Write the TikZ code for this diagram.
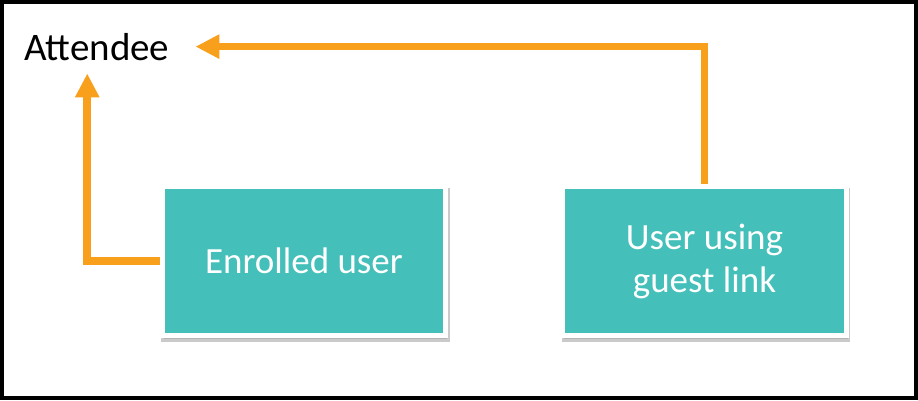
\documentclass[tikz,border=0pt]{standalone}
\usepackage{fontspec}
\setmainfont{Carlito}
\usetikzlibrary{positioning, arrows.meta, shadows, backgrounds}
\definecolor{boxteal}{RGB}{68,191,186}
\definecolor{flowor}{RGB}{248,160,28}

\begin{document}
\begin{tikzpicture}[
    x=1pt, y=1pt,
    role/.style={draw=white, line width=5pt, fill=boxteal, text=white,
        minimum width=283.5pt, minimum height=148.5pt, align=center,
        font=\fontsize{37}{43}\selectfont,
        drop shadow={shadow xshift=1.5pt, shadow yshift=-4pt, fill=black!35, draw=black!35, line width=5pt, opacity=0.6}},
    flow/.style={draw=flowor, line width=7.5pt, -{Triangle[length=24pt, width=23pt]}}
]
    \useasboundingbox (0,0) rectangle (918,400);

    % Frame
    \draw[line width=4pt] (2,2) rectangle (916,398);

    % Nodes
    \node[anchor=base west, inner sep=0pt, font=\fontsize{39}{45}\selectfont] (attendee) at (24,340) {Attendee};
    \node[role] (enrolled) at (304,139) {Enrolled user};
    \node[role] (guest) at (704.5,139) {User using\\guest link};

    % Arrows
    \begin{scope}[on background layer]
        % Enrolled user -> Attendee
        \draw[flow, shorten >=13pt] (enrolled.west) -| ([xshift=-9.5pt]attendee.south);
        % Guest link user -> Attendee
        \draw[flow, shorten >=26pt] (guest.north) |- (attendee.east);
    \end{scope}
\end{tikzpicture}
\end{document}
